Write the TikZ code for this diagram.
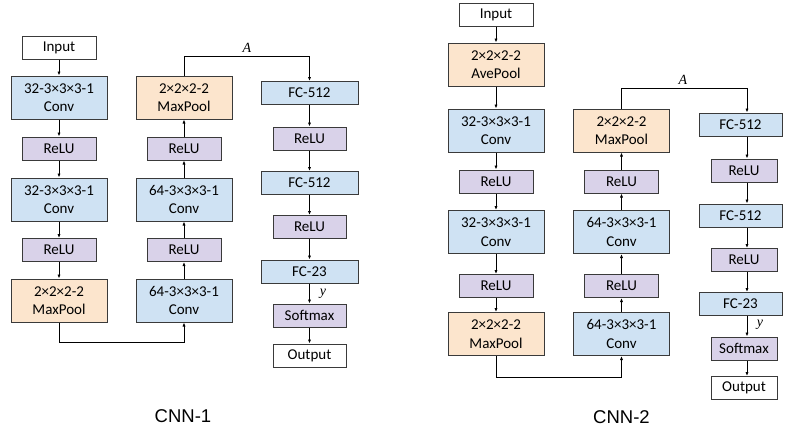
\documentclass[tikz,border=0pt]{standalone}
\usepackage{fontspec}
\setmainfont{Carlito}
\newfontfamily\capfont{Liberation Sans}
\newfontfamily\symfont{Liberation Serif}
\usetikzlibrary{arrows.meta}
\definecolor{cblue}{HTML}{CFE2F3}
\definecolor{corange}{HTML}{FCE5CD}
\definecolor{cpurple}{HTML}{D9D2E9}
\definecolor{bordc}{HTML}{3A3A3A}
\begin{document}
\begin{tikzpicture}[x=1pt,y=-1pt,
  box/.style={draw=bordc, line width=1pt, inner sep=0pt, align=center,
    font=\fontsize{15}{18.5}\selectfont},
  bigbox/.style={box, minimum width=96pt, minimum height=43pt},
  smallbox/.style={box, minimum width=74pt, minimum height=23pt},
  fcbox/.style={box, minimum width=97pt, minimum height=23pt, fill=cblue},
  fcboxb/.style={box, minimum width=83pt, minimum height=23pt, fill=cblue},
  smallboxb/.style={box, minimum width=66pt, minimum height=23pt},
  conv/.style={bigbox, fill=cblue},
  pool/.style={bigbox, fill=corange},
  relu/.style={smallbox, fill=cpurple},
  io/.style={smallbox, fill=white},
  arr/.style={draw=black, line width=0.9pt, -{Latex[length=4pt,width=3.2pt]}},
  varlab/.style={font=\symfont\itshape\fontsize{14}{14}\selectfont},
  caption/.style={font=\capfont\fontsize{18.5}{18.5}\selectfont}
]
\useasboundingbox (0,0) rectangle (787,429);
\fill[white] (0,0) rectangle (787,429);

% ---------------- CNN-1 ----------------
\node[io]   (a_in)  at (59,47.5)  {Input};
\node[conv] (a_c1)  at (59,97.5)  {32-3×3×3-1\\Conv};
\node[relu] (a_r1)  at (59,148.5) {ReLU};
\node[conv] (a_c2)  at (59,199.5) {32-3×3×3-1\\Conv};
\node[relu] (a_r2)  at (59,250)   {ReLU};
\node[pool] (a_p1)  at (59,300.5) {2×2×2-2\\MaxPool};

\node[conv] (a_c4)  at (184,300.5) {64-3×3×3-1\\Conv};
\node[relu] (a_r4)  at (184,250)   {ReLU};
\node[conv] (a_c3)  at (184,199.5) {64-3×3×3-1\\Conv};
\node[relu] (a_r3)  at (184,148.5) {ReLU};
\node[pool] (a_p2)  at (184,97.5)  {2×2×2-2\\MaxPool};

\node[fcbox] (a_f1) at (309.5,93)    {FC-512};
\node[relu, minimum width=73pt] (a_r5) at (309.5,138.5) {ReLU};
\node[fcbox] (a_f2) at (309.5,183)   {FC-512};
\node[relu, minimum width=73pt] (a_r6) at (309.5,227)   {ReLU};
\node[fcbox] (a_f3) at (309.5,271.5) {FC-23};
\node[relu, minimum width=73pt] (a_sm) at (309.5,315.5) {Softmax};
\node[io, minimum width=73pt]   (a_out) at (309.5,355.5) {Output};

\draw[arr] (a_in) -- (a_c1);
\draw[arr] (a_c1) -- (a_r1);
\draw[arr] (a_r1) -- (a_c2);
\draw[arr] (a_c2) -- (a_r2);
\draw[arr] (a_r2) -- (a_p1);
\draw[arr] (a_p1.south) -- ++(0,20) -| (a_c4.south);
\draw[arr] (a_c4) -- (a_r4);
\draw[arr] (a_r4) -- (a_c3);
\draw[arr] (a_c3) -- (a_r3);
\draw[arr] (a_r3) -- (a_p2);
\draw[arr] (a_p2.north) -- ++(0,-19) -| (a_f1.north);
\draw[arr] (a_f1) -- (a_r5);
\draw[arr] (a_r5) -- (a_f2);
\draw[arr] (a_f2) -- (a_r6);
\draw[arr] (a_r6) -- (a_f3);
\draw[arr] (a_f3) -- (a_sm);
\draw[arr] (a_sm) -- (a_out);

\node[varlab] (a_A) at (247,48) {A};
\node[varlab] (a_y) at (323,294) {y};
\node[caption] (a_cap) at (183,416) {CNN-1};

% ---------------- CNN-2 ----------------
\node[io]   (b_in)  at (496,14.5)  {Input};
\node[pool] (b_p0)  at (496,64.5)  {2×2×2-2\\AvePool};
\node[conv] (b_c1)  at (496,130.5) {32-3×3×3-1\\Conv};
\node[relu] (b_r1)  at (496,181.5) {ReLU};
\node[conv] (b_c2)  at (496,232)   {32-3×3×3-1\\Conv};
\node[relu] (b_r2)  at (496,286)   {ReLU};
\node[pool] (b_p1)  at (496,334)   {2×2×2-2\\MaxPool};

\node[conv] (b_c4)  at (621.5,334)   {64-3×3×3-1\\Conv};
\node[relu] (b_r4)  at (621.5,286)   {ReLU};
\node[conv] (b_c3)  at (621.5,232)   {64-3×3×3-1\\Conv};
\node[relu] (b_r3)  at (621.5,181.5) {ReLU};
\node[pool] (b_p2)  at (621.5,130.5) {2×2×2-2\\MaxPool};

\node[fcboxb] (b_f1) at (740.5,124.5) {FC-512};
\node[smallboxb, fill=cpurple] (b_r5) at (744,170.5) {ReLU};
\node[fcboxb] (b_f2) at (740.5,215.5) {FC-512};
\node[smallboxb, fill=cpurple] (b_r6) at (744,260)   {ReLU};
\node[fcboxb] (b_f3) at (740.5,304)   {FC-23};
\node[smallboxb, fill=cpurple] (b_sm) at (744,348.5) {Softmax};
\node[smallboxb, fill=white]   (b_out) at (744,388)  {Output};
\coordinate (b_ax) at (747,0);

\draw[arr] (b_in) -- (b_p0);
\draw[arr] (b_p0) -- (b_c1);
\draw[arr] (b_c1) -- (b_r1);
\draw[arr] (b_r1) -- (b_c2);
\draw[arr] (b_c2) -- (b_r2);
\draw[arr] (b_r2) -- (b_p1);
\draw[arr] (b_p1.south) -- ++(0,21) -| (b_c4.south);
\draw[arr] (b_c4) -- (b_r4);
\draw[arr] (b_r4) -- (b_c3);
\draw[arr] (b_c3) -- (b_r3);
\draw[arr] (b_r3) -- (b_p2);
\draw[arr] (b_p2.north) -- ++(0,-20) -| (b_f1.north -| b_ax);
\draw[arr] (b_f1.south -| b_ax) -- (b_r5.north -| b_ax);
\draw[arr] (b_r5.south -| b_ax) -- (b_f2.north -| b_ax);
\draw[arr] (b_f2.south -| b_ax) -- (b_r6.north -| b_ax);
\draw[arr] (b_r6.south -| b_ax) -- (b_f3.north -| b_ax);
\draw[arr] (b_f3.south -| b_ax) -- (b_sm.north -| b_ax);
\draw[arr] (b_sm.south -| b_ax) -- (b_out.north -| b_ax);

\node[varlab] (b_A) at (683,80) {A};
\node[varlab] (b_y) at (760,325) {y};
\node[caption] (b_cap) at (621.5,417) {CNN-2};
\end{tikzpicture}
\end{document}
